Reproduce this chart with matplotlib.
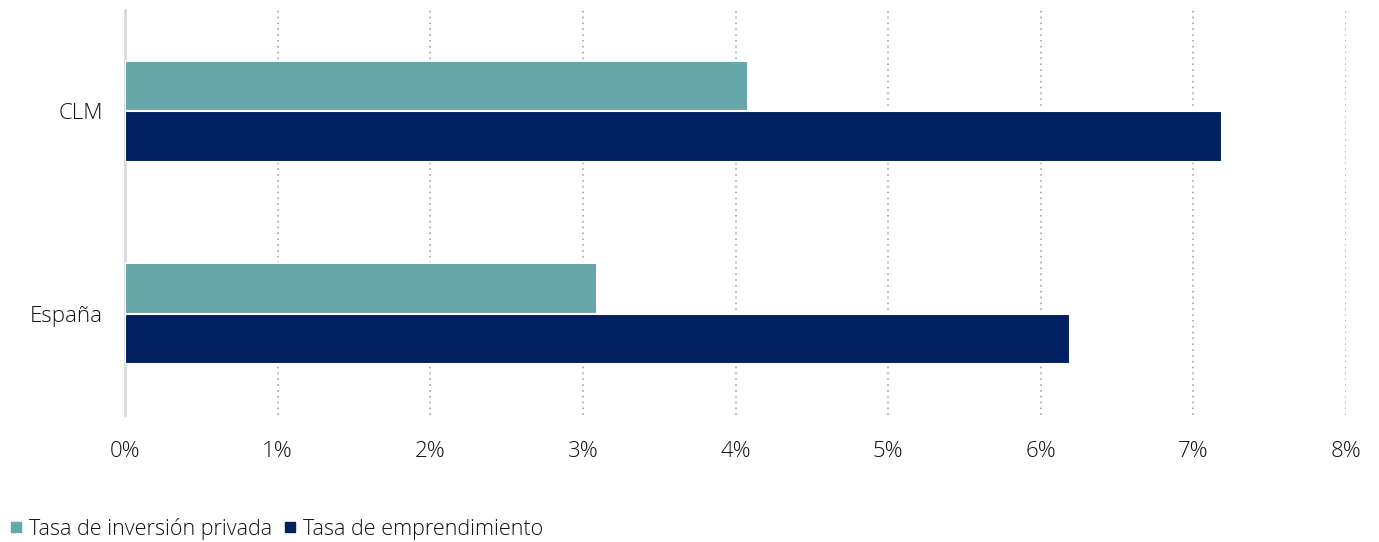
import numpy as np
import matplotlib.pyplot as plt
from matplotlib.lines import Line2D

categories = ["España", "CLM"]
inversion = [3.09, 4.08]
emprendimiento = [6.19, 7.19]
series_names = ["Tasa de inversión privada", "Tasa de emprendimiento"]
colors = ["#66a5a8", "#002060"]
xticks = np.arange(0, 9)

plt.rcParams["font.family"] = ["Open Sans", "DejaVu Sans"]
plt.rcParams["font.weight"] = "light"

fig = plt.figure(figsize=(13.79, 5.42), dpi=100)
ax = fig.add_axes([125 / 1379, 1 - 415 / 542, (1346 - 125) / 1379, 405 / 542])

y = np.arange(len(categories))
h = 0.25
ax.barh(y + h / 2, inversion, height=h, color=colors[0], edgecolor="white", lw=1.5, zorder=3)
ax.barh(y - h / 2, emprendimiento, height=h, color=colors[1], edgecolor="white", lw=1.5, zorder=3)

ax.set_xlim(0, 8)
ax.set_ylim(-0.5, 1.5)
ax.set_xticks(xticks)
ax.set_xticklabels([f"{v}%" for v in xticks])
ax.set_yticks(y)
ax.set_yticklabels(categories)
ax.tick_params(length=0, labelsize=16, colors="#111111", pad=19)
ax.tick_params(axis="y", pad=16)
ax.xaxis.grid(True, ls=(0, (1, 2.5)), color="#a3a3c2", lw=1.2, zorder=0)
for s in ["top", "right", "bottom"]:
    ax.spines[s].set_visible(False)
ax.spines["left"].set_color("#d9d9d9")
ax.spines["left"].set_linewidth(2)

handles = [Line2D([], [], marker="s", ls="", color=c, markersize=7) for c in colors]
fig.legend(handles, series_names, loc="lower left", bbox_to_anchor=(-0.018, -0.032), ncol=2,
           frameon=False, fontsize=15.5, handletextpad=-0.4, columnspacing=-0.15,
           labelcolor="#111111")

fig.savefig("out.png", dpi=100)
